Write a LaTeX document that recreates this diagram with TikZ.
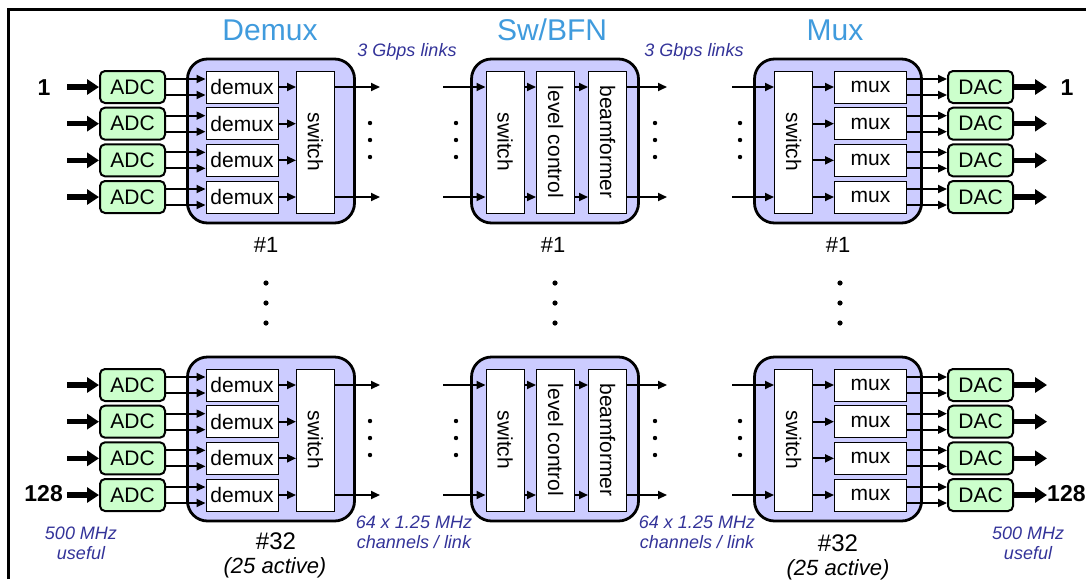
\documentclass[tikz,border=0pt]{standalone}
\usepackage{fontspec}
\setmainfont{Liberation Sans}
\usetikzlibrary{arrows.meta}
\definecolor{adcgreen}{RGB}{204,255,204}
\definecolor{boxblue}{RGB}{204,204,255}
\definecolor{titleblue}{RGB}{64,155,221}
\definecolor{notecol}{RGB}{51,51,153}
\begin{document}
\begin{tikzpicture}[x=1pt,y=-1pt]
\tikzstyle{conv}=[draw, line width=2pt, rounded corners=5pt, fill=adcgreen, minimum width=65pt, minimum height=32pt, inner sep=0pt, font=\fontsize{21}{24}\selectfont]
\tikzstyle{sub}=[draw, line width=1pt, fill=white, minimum width=72pt, minimum height=32pt, inner sep=0pt, font=\fontsize{21}{24}\selectfont]
\tikzstyle{tall}=[draw, line width=1pt, fill=white, minimum width=38pt, minimum height=142pt, inner sep=0pt, font=\fontsize{21}{24}\selectfont]
\tikzstyle{board}=[draw, line width=2.8pt, rounded corners=20pt, fill=boxblue, minimum width=167pt, minimum height=164pt]
\tikzstyle{lnk}=[line width=1.8pt, -{Triangle[length=9pt,width=8pt]}]
\tikzstyle{fat}=[line width=5.5pt, -{Triangle[length=12pt,width=15pt]}]
\tikzstyle{note}=[text=notecol, font=\fontsize{18}{20}\selectfont\itshape, align=center]
\tikzstyle{ttl}=[text=titleblue, font=\fontsize{30}{32}\selectfont]
\tikzstyle{num}=[font=\fontsize{22}{24}\selectfont, align=center]
\tikzstyle{io}=[font=\bfseries\fontsize{23}{26}\selectfont, inner sep=0pt]
\useasboundingbox (0,0) rectangle (1086,579);
\draw[line width=3pt] (8,579) -- (8,9) -- (1086,9);
% titles and link notes
\node[ttl] (t-dmx) at (270,30) {Demux};
\node[ttl] (t-bfn) at (552,30) {Sw/BFN};
\node[ttl] (t-mux) at (835,30) {Mux};
\node[note] (n-l1) at (407,52) {3 Gbps links};
\node[note] (n-l2) at (694,52) {3 Gbps links};
\foreach \r/\dy in {t/0, b/298}{
\node[board] (dbd-\r) at (271,141+\dy) {};
\node[board] (bbd-\r) at (555,141+\dy) {};
\node[board] (mbd-\r) at (838,141+\dy) {};
\node[tall] (dsw-\r) at (315.5,142+\dy) {\rotatebox{-90}{switch}};
\node[tall] (bsw-\r) at (505,142+\dy) {\rotatebox{-90}{switch}};
\node[tall] (lvl-\r) at (555.5,142+\dy) {\rotatebox{-90}{level control}};
\node[tall] (bfm-\r) at (607.5,142+\dy) {\rotatebox{-90}{beamformer}};
\node[tall] (msw-\r) at (793.5,142+\dy) {\rotatebox{-90}{switch}};
\foreach \k in {1,...,4}{
  \pgfmathsetmacro\yy{87+36.67*(\k-1)+\dy}
  \node[conv] (adc-\r-\k) at (132.5,\yy) {ADC};
  \node[sub] (dmx-\r-\k) at (242,\yy) {demux};
  \node[sub] (mux-\r-\k) at (870.5,\yy) {mux};
  \node[conv] (dac-\r-\k) at (980.5,\yy) {DAC};
  \coordinate (in-\r-\k) at (67,\yy);
  \coordinate (out-\r-\k) at (1047,\yy);
  \draw[fat] (in-\r-\k) -- (adc-\r-\k);
  \draw[fat] (dac-\r-\k) -- (out-\r-\k);
  \foreach \s in {8,-8}{
    \draw[lnk] ([yshift=\s pt]adc-\r-\k.east) -- ([yshift=\s pt]dmx-\r-\k.west);
    \draw[lnk] ([yshift=\s pt]mux-\r-\k.east) -- ([yshift=\s pt]dac-\r-\k.west);}
  \draw[lnk] (dmx-\r-\k) -- (dmx-\r-\k -| dsw-\r.west);
  \draw[lnk] (msw-\r.east |- mux-\r-\k) -- (mux-\r-\k);
}
\foreach \k in {1,4}{
  \pgfmathsetmacro\yy{87+36.67*(\k-1)+\dy}
  \coordinate (dout-\r-\k) at (380,\yy);
  \coordinate (bin-\r-\k) at (443,\yy);
  \coordinate (bout-\r-\k) at (667,\yy);
  \coordinate (min-\r-\k) at (732,\yy);
  \draw[lnk] (dsw-\r.east |- dout-\r-\k) -- (dout-\r-\k);
  \draw[lnk] (bin-\r-\k) -- (bsw-\r.west |- bin-\r-\k);
  \draw[lnk] (bsw-\r.east |- bin-\r-\k) -- (lvl-\r.west |- bin-\r-\k);
  \draw[lnk] (lvl-\r.east |- bin-\r-\k) -- (bfm-\r.west |- bin-\r-\k);
  \draw[lnk] (bfm-\r.east |- bout-\r-\k) -- (bout-\r-\k);
  \draw[lnk] (min-\r-\k) -- (msw-\r.west |- min-\r-\k);
}
\foreach \x in {370,456,655,740}{
  \foreach \d in {123,140,157}{\fill (\x,\d+\dy) circle (2.2pt);}}
}
% between #1 and #32
\foreach \x in {266,555,840}{
  \foreach \d in {283,303,323}{\fill (\x,\d) circle (2.6pt);}}
\node[num] (id-d1) at (266,245) {\#1};
\node[num] (id-b1) at (553,245) {\#1};
\node[num] (id-m1) at (838,245) {\#1};
\node[num, font=\fontsize{24}{26}\selectfont] (id-d32) at (276,541) {\#32};
\node[num, font=\fontsize{22}{24}\selectfont\itshape] (act-d) at (275,568) {(25 active)};
\node[num, font=\fontsize{24}{26}\selectfont] (id-m32) at (838,543) {\#32};
\node[num, font=\fontsize{22}{24}\selectfont\itshape] (act-m) at (838,570) {(25 active)};
\node[note] (n-ch1) at (414,532) {64 x 1.25 MHz\\channels / link};
\node[note] (n-ch2) at (697,532) {64 x 1.25 MHz\\channels / link};
\node[note] (n-u1) at (81,543) {500 MHz\\useful};
\node[note] (n-u2) at (1028,543) {500 MHz\\useful};
% channel numbers
\node[io] (lab-i1) at (44,88) {1};
\node[io, anchor=east] (lab-i128) at (63,494) {128};
\node[io] (lab-o1) at (1067,88) {1};
\node[io, anchor=west] (lab-o128) at (1047,494) {128};
\end{tikzpicture}
\end{document}
